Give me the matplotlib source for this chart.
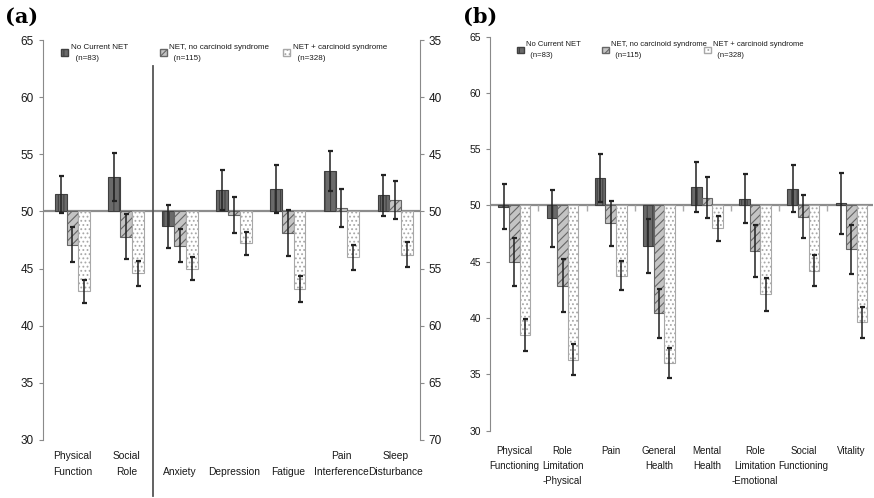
import numpy as np
import matplotlib.pyplot as plt
from matplotlib.patches import Patch
from matplotlib.transforms import blended_transform_factory

plt.rcParams['font.family'] = ['Liberation Sans', 'DejaVu Sans']
plt.rcParams['hatch.linewidth'] = 0.8

# groups (legend)
groups = ['No Current NET\n  (n=83)', 'NET, no carcinoid syndrome\n  (n=115)', 'NET + carcinoid syndrome\n  (n=328)']

# panel (a): PROMIS, left axis (function) and right axis (symptoms, inverted)
a_left_cats = ['Physical\nFunction', 'Social\nRole']
a_left_vals = [[51.5, 53.0], [47.1, 47.8], [43.0, 44.6]]
a_left_err = [[1.6, 2.1], [1.55, 2.0], [1.0, 1.1]]

a_right_cats = ['Anxiety', 'Depression', 'Fatigue', 'Pain\nInterference', 'Sleep\nDisturbance']
a_right_vals = [[51.3, 48.1, 48.0, 46.5, 48.6],
                [53.0, 50.3, 51.9, 49.7, 49.0],
                [55.0, 52.8, 56.8, 54.0, 53.8]]
a_right_err = [[1.9, 1.75, 2.1, 1.75, 1.8],
               [1.45, 1.55, 2.0, 1.7, 1.7],
               [1.0, 1.0, 1.15, 1.1, 1.1]]

# panel (b): SF-36
b_cats = ['Physical\nFunctioning', 'Role\nLimitation\n-Physical', 'Pain', 'General\nHealth',
          'Mental\nHealth', 'Role\nLimitation\n-Emotional', 'Social\nFunctioning', 'Vitality']
b_vals = [[49.9, 48.85, 52.45, 46.4, 51.65, 50.6, 51.5, 50.2],
          [45.0, 42.85, 48.4, 40.4, 50.7, 45.95, 49.0, 46.1],
          [38.5, 36.3, 43.75, 36.0, 47.95, 42.1, 44.2, 39.6]]
b_err = [[2.0, 2.5, 2.15, 2.4, 2.2, 2.2, 2.1, 2.7],
         [2.15, 2.35, 2.0, 2.15, 1.8, 2.3, 1.9, 2.2],
         [1.45, 1.4, 1.3, 1.35, 1.1, 1.45, 1.4, 1.4]]

faces = ['#6a6a6a', '#c4c4c4', 'white']
edges = ['#404040', '#666666', '#a8a8a8']
hatches = ['|||', '////', '....']
width = 0.22
offsets = [-width, 0, width]
axis_gray = '#8a8a8a'
text_col = '#1a1a1a'


def draw_bars(ax, x, vals, errs):
    for g in range(3):
        v = np.array(vals[g])
        ax.bar(x + offsets[g], v - 50, bottom=50, width=width, color=faces[g],
               edgecolor=edges[g], hatch=hatches[g], linewidth=0.8, zorder=2)
        ax.errorbar(x + offsets[g], v, yerr=errs[g], fmt='none', ecolor='#222222',
                    elinewidth=1.1, capsize=1.8, capthick=1.6, zorder=3)


def style_axis(ax):
    for s in ['top', 'right', 'bottom']:
        ax.spines[s].set_visible(False)
    ax.spines['left'].set_color(axis_gray)
    ax.tick_params(axis='y', colors=text_col, labelsize=8.5, length=3, color=axis_gray)
    ax.tick_params(axis='x', length=0, labelcolor=text_col)


def add_legend(ax, xs, top, size):
    # one small legend per group so the entries sit where the original has them
    for g in range(3):
        h = Patch(facecolor=faces[g], edgecolor=edges[g], hatch=hatches[g])
        leg = ax.legend([h], [groups[g]], loc='upper left', bbox_to_anchor=(xs[g], top),
                        frameon=False, fontsize=size, handlelength=0.9, handleheight=0.9,
                        handletextpad=0.3, borderpad=0, borderaxespad=0, labelcolor=text_col)
        for t in leg.get_texts():
            t.set_linespacing(1.7)
        if g < 2:
            ax.add_artist(leg)


fig = plt.figure(figsize=(8.74, 4.98), dpi=100)

# ---- panel (a)
ax = fig.add_axes([0.049, 0.1165, 0.431, 0.803])
ax2 = ax.twinx()
style_axis(ax)
ax2.spines['top'].set_visible(False)
ax2.spines['bottom'].set_visible(False)
ax2.spines['left'].set_visible(False)
ax2.spines['right'].set_color(axis_gray)
ax2.tick_params(axis='y', colors=text_col, labelsize=8.5, length=3, color=axis_gray)

xa_left = np.arange(len(a_left_cats))
xa_right = np.arange(len(a_right_cats)) + len(a_left_cats)
draw_bars(ax, xa_left, a_left_vals, a_left_err)
draw_bars(ax2, xa_right, a_right_vals, a_right_err)

ax.set_ylim(30, 65)
ax.set_yticks(np.arange(30, 66, 5))
ax2.set_ylim(70, 35)
ax2.set_yticks(np.arange(35, 71, 5))
ax.set_xlim(-0.55, 6.45)
ax.axhline(50, color='#8c8c8c', lw=1.6, zorder=1)
ax.set_xticks(np.concatenate([xa_left, xa_right]))
ax.set_xticklabels(a_left_cats + a_right_cats, va='bottom', fontsize=7.4, linespacing=1.8)
ax.tick_params(axis='x', pad=27)

tr = blended_transform_factory(ax.transData, ax.transAxes)
ax.plot([1.5, 1.5], [-0.14, 0.935], transform=tr, color='#555555', lw=1.3, clip_on=False)

add_legend(ax2, [0.048, 0.31, 0.638], 0.99, 5.8)
fig.text(0.006, 0.955, '(a)', fontsize=15, fontweight='bold', family='DejaVu Serif')

# ---- panel (b)
bx = fig.add_axes([0.561, 0.1355, 0.438, 0.791])
style_axis(bx)
xb = np.arange(len(b_cats))
draw_bars(bx, xb, b_vals, b_err)
bx.set_ylim(30, 65)
bx.set_yticks(np.arange(30, 66, 5))
bx.tick_params(axis='y', labelsize=7.5)
bx.set_xlim(-0.5, 7.45)
bx.axhline(50, color='#8c8c8c', lw=1.6, zorder=1)
bx.plot(xb[:-1] + 0.5, [50] * (len(xb) - 1), ls='none', marker=3, ms=4, color='#aaaaaa', zorder=1)
bx.set_xticks(xb)
bx.set_xticklabels(b_cats, fontsize=7.0, linespacing=1.65)
bx.tick_params(axis='x', pad=11)
add_legend(bx, [0.07, 0.292, 0.558], 0.988, 5.5)
fig.text(0.53, 0.955, '(b)', fontsize=15, fontweight='bold', family='DejaVu Serif')

fig.savefig('out.png', dpi=100)
